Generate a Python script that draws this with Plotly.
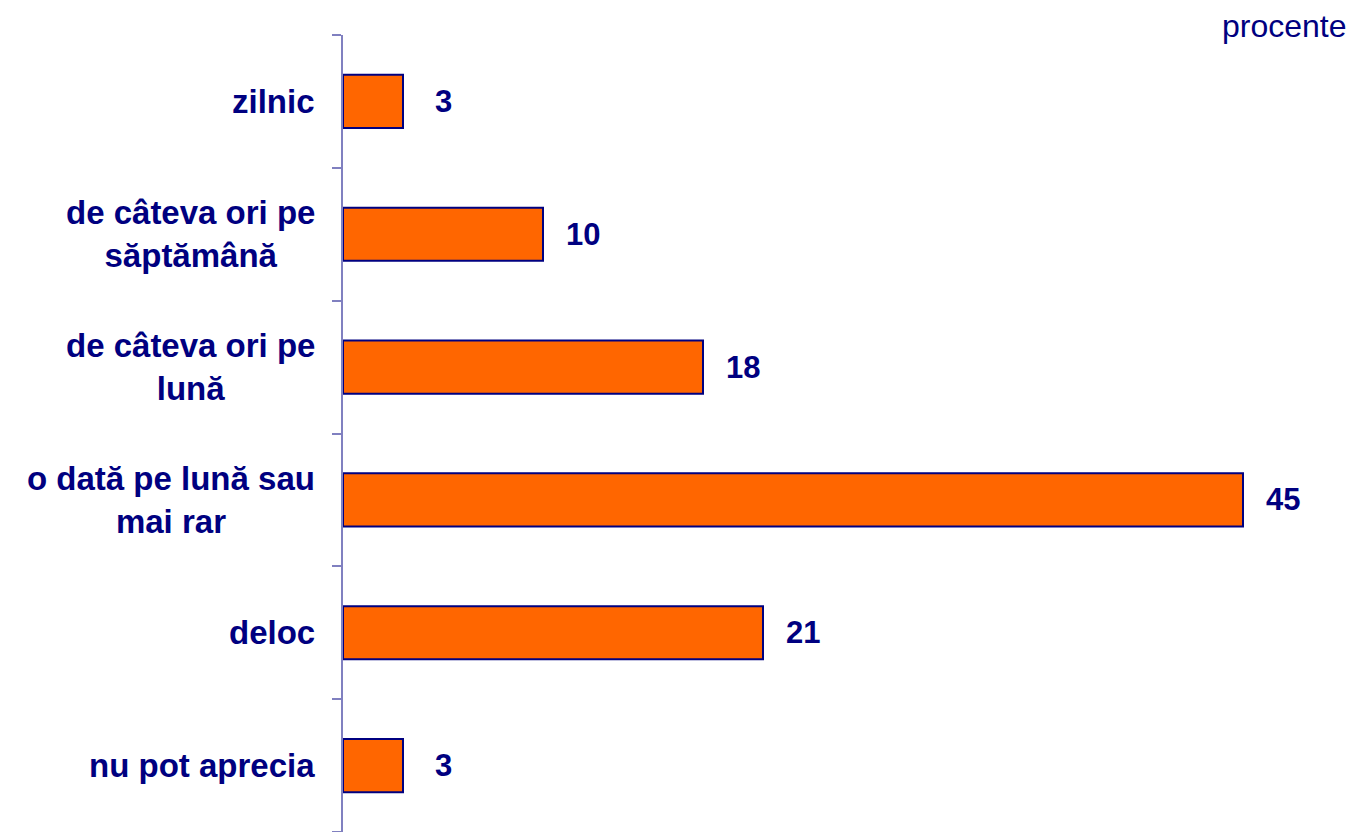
import plotly.graph_objects as go

categories = ["zilnic", "de câteva ori pe<br>săptămână", "de câteva ori pe<br>lună",
              "o dată pe lună sau<br>mai rar", "deloc", "nu pot aprecia"]
values = [3, 10, 18, 45, 21, 3]
unit_label = "procente"

NAVY = "#000080"
FONT = "Liberation Sans, Arial, sans-serif"

fig = go.Figure()
fig.add_trace(go.Bar(
    y=list(range(len(categories))), x=values, orientation="h",
    marker=dict(color="#FF6600", line=dict(color=NAVY, width=2)),
    hoverinfo="skip",
))

annotations = []
for i, (c, v) in enumerate(zip(categories, values)):
    annotations.append(dict(
        x=0, xref="paper", y=i, yref="y", text=c, showarrow=False,
        xanchor="right", yanchor="middle", align="center", xshift=-26,
        font=dict(family=FONT, size=33, color=NAVY, weight="bold"),
    ))
    annotations.append(dict(
        x=v, xref="x", y=i, yref="y", text=str(v), showarrow=False,
        xanchor="center", yanchor="middle", xshift=40,
        font=dict(family=FONT, size=31, color=NAVY, weight="bold"),
    ))
annotations.append(dict(
    x=1.0, xref="paper", y=1, yref="paper", text=unit_label, showarrow=False,
    xanchor="right", yanchor="top", xshift=6, yshift=29,
    font=dict(family=FONT, size=32, color=NAVY),
))

# page body has an 8px margin, so the figure is sized to fill the rest of the window
fig.update_layout(
    width=1352, height=824,
    margin=dict(l=335, r=17, t=27, b=0),
    paper_bgcolor="white", plot_bgcolor="white",
    bargap=0.6, showlegend=False,
    xaxis=dict(range=[0, 50], visible=False),
    yaxis=dict(
        type="linear", range=[len(categories) - 0.5, -0.5],
        showticklabels=False, showgrid=False, zeroline=False,
        showline=True, linecolor="#8080C0", linewidth=2,
        ticks="outside", ticklen=9, tickwidth=1.5, tickcolor="#8080C0",
        tickmode="array", tickvals=[i - 0.5 for i in range(len(categories) + 1)],
    ),
    annotations=annotations,
)

fig.write_html("out.html")
